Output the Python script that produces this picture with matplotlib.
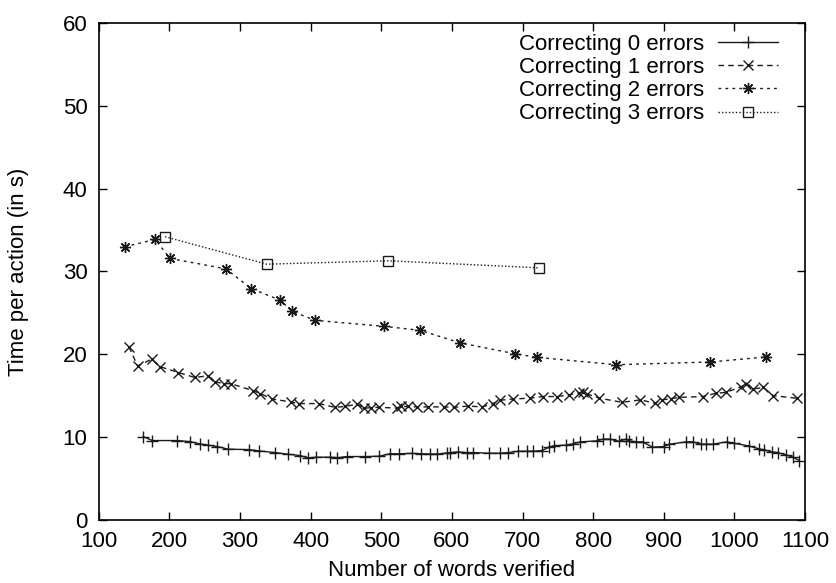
import matplotlib.pyplot as plt
import numpy as np

plt.rcParams.update({"font.family": ["Liberation Sans", "DejaVu Sans"], "font.size": 16})

# Correcting 0 errors
x0 = [163, 176, 211, 229, 243, 255, 268, 283, 313, 327, 350, 368, 385, 397, 408, 427, 438,
      452, 477, 497, 513, 525, 543, 556, 569, 579, 593, 598, 609, 621, 630, 653, 668, 680,
      694, 706, 715, 727, 738, 745, 762, 771, 782, 805, 814, 824, 836, 847, 851, 861, 870,
      884, 900, 908, 932, 941, 953, 960, 969, 989, 999, 1020, 1035, 1042, 1053, 1061, 1073,
      1083, 1092]
y0 = [10.07, 9.59, 9.59, 9.47, 9.19, 9.03, 8.87, 8.55, 8.50, 8.34, 8.14, 7.94, 7.78, 7.50,
      7.58, 7.58, 7.53, 7.66, 7.66, 7.70, 8.0, 8.0, 8.04, 8.0, 7.96, 7.96, 8.08, 8.14, 8.22,
      8.14, 8.14, 8.06, 8.06, 8.14, 8.30, 8.30, 8.30, 8.38, 8.79, 8.99, 9.03, 9.19, 9.43,
      9.55, 9.76, 9.76, 9.51, 9.76, 9.55, 9.43, 9.43, 8.79, 8.87, 9.15, 9.43, 9.43, 9.15,
      9.15, 9.15, 9.43, 9.27, 8.95, 8.59, 8.46, 8.22, 8.14, 7.86, 7.58, 7.17]

# Correcting 1 errors
x1 = [143, 155, 175, 187, 213, 236, 255, 264, 277, 287, 319, 329, 346, 372, 383, 412, 434,
      449, 466, 476, 486, 497, 523, 528, 538, 551, 566, 589, 603, 623, 643, 658, 668, 686,
      710, 729, 749, 766, 780, 786, 792, 809, 841, 867, 887, 898, 910, 922, 955, 974, 988,
      1010, 1017, 1026, 1041, 1055, 1088]
y1 = [20.9, 18.6, 19.4, 18.5, 17.8, 17.2, 17.4, 16.7, 16.45, 16.45, 15.6, 15.25, 14.6, 14.25,
      14.05, 14.05, 13.6, 13.7, 14.0, 13.5, 13.55, 13.6, 13.5, 13.7, 13.7, 13.65, 13.65,
      13.65, 13.6, 13.75, 13.65, 14.05, 14.45, 14.6, 14.7, 14.9, 14.9, 15.1, 15.35, 15.4,
      15.2, 14.7, 14.2, 14.5, 14.1, 14.5, 14.65, 14.8, 14.9, 15.3, 15.4, 16.1, 16.45, 15.8,
      16.0, 15.0, 14.7]

# Correcting 2 errors
x2 = [137, 180, 201, 280, 316, 357, 374, 406, 504, 555, 612, 689, 720, 833, 966, 1044]
y2 = [32.97, 33.86, 31.56, 30.31, 27.93, 26.52, 25.19, 24.10, 23.37, 22.89, 21.37, 20.07,
      19.63, 18.74, 19.07, 19.67]

# Correcting 3 errors
x3 = [194, 338, 510, 723]
y3 = [34.18, 30.87, 31.28, 30.43]

fig = plt.figure(figsize=(8.36, 5.83), dpi=100)
ax = fig.add_axes([0.118, 0.108, 0.845, 0.853])

lc = "#1a1a1a"
ax.plot(x0, y0, color=lc, lw=1.0, marker="+", ms=8, mew=1.0,
        label="Correcting 0 errors")
ax.plot(x1, y1, color=lc, lw=1.0, ls=(0, (4, 3)), marker="x", ms=7, mew=1.0,
        label="Correcting 1 errors")
ax.plot(x2, y2, color=lc, lw=1.0, ls=(0, (2, 3)), marker=(8, 2, 0), ms=8, mew=1.0,
        label="Correcting 2 errors")
ax.plot(x3, y3, color=lc, lw=1.0, ls=(0, (1, 1.5)), marker="s", ms=7, mew=1.0,
        mfc="none", label="Correcting 3 errors")

ax.set_xlim(100, 1100)
ax.set_ylim(0, 60)
ax.set_xticks(np.arange(100, 1101, 100))
ax.set_yticks(np.arange(0, 61, 10))
ax.tick_params(axis="x", direction="in", length=6, width=1, top=True, pad=8)
ax.tick_params(axis="y", direction="in", length=6, width=1, right=True, pad=8)
for s in ax.spines.values():
    s.set_linewidth(1.2)

ax.set_xlabel("Number of words verified", labelpad=6)
ax.set_ylabel("Time per action (in s)", labelpad=24)

leg = ax.legend(loc="upper right", bbox_to_anchor=(0.961, 0.978), frameon=False,
                markerfirst=False, handlelength=2.7, handletextpad=0.6,
                labelspacing=0.1, borderpad=0, borderaxespad=0)

fig.savefig("out.png", dpi=100)
